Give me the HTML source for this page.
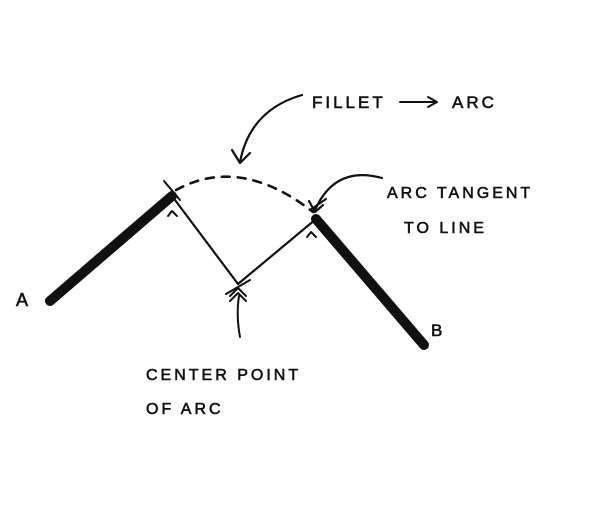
<!DOCTYPE html>
<html><head><meta charset="utf-8"><style>
html,body{margin:0;padding:0;background:#fff;}
svg{display:block}
text{font-family:"Liberation Sans",sans-serif;fill:#111;stroke:#111;stroke-width:0.6;letter-spacing:3px}
</style></head><body>
<svg width="600" height="505" viewBox="0 0 600 505">
<g stroke="#111" fill="none" stroke-linecap="round" stroke-linejoin="round">
<line x1="50" y1="301" x2="172" y2="196" stroke-width="10"/>
<line x1="316" y1="219" x2="424" y2="345" stroke-width="10"/>
<polyline points="172,196 238,284 316,219" stroke-width="2.2"/>
<path d="M176,190 Q240,155 313,212" stroke-width="2.6" stroke-dasharray="8,8"/>
<line x1="164" y1="181" x2="180" y2="200" stroke-width="2"/>
<line x1="310" y1="210" x2="326" y2="199" stroke-width="2"/>
<polyline points="168,216 172,211 177,216" stroke-width="2"/>
<polyline points="307,237 311,232 316,237" stroke-width="2"/>
<line x1="226" y1="294" x2="250" y2="280" stroke-width="2"/>
<polyline points="230,296 238,288 246,296" stroke-width="2"/>
<polyline points="230,301 238,293 246,301" stroke-width="2"/>
<path d="M240,337 Q236,315 239,296" stroke-width="2"/>
<path d="M302,95 Q250,110 240,162" stroke-width="2.2"/>
<polyline points="232,150 240,163 250,153" stroke-width="2.2"/>
<path d="M382,178 Q335,165 315,210" stroke-width="2.2"/>
<polyline points="309,201 315,212 323,205" stroke-width="2.2"/>
<line x1="400" y1="102" x2="435" y2="102" stroke-width="2"/>
<polyline points="428,97 437,102 428,107" stroke-width="2"/>
</g>
<text x="312" y="108" font-size="17">FILLET</text>
<text x="452" y="108" font-size="17">ARC</text>
<text x="387" y="198" font-size="16">ARC TANGENT</text>
<text x="404" y="233" font-size="16">TO LINE</text>
<text x="146" y="380" font-size="16">CENTER POINT</text>
<text x="146" y="414" font-size="16">OF ARC</text>
<text x="16" y="306" font-size="18">A</text>
<text x="431" y="336" font-size="17">B</text>
</svg>
</body></html>
